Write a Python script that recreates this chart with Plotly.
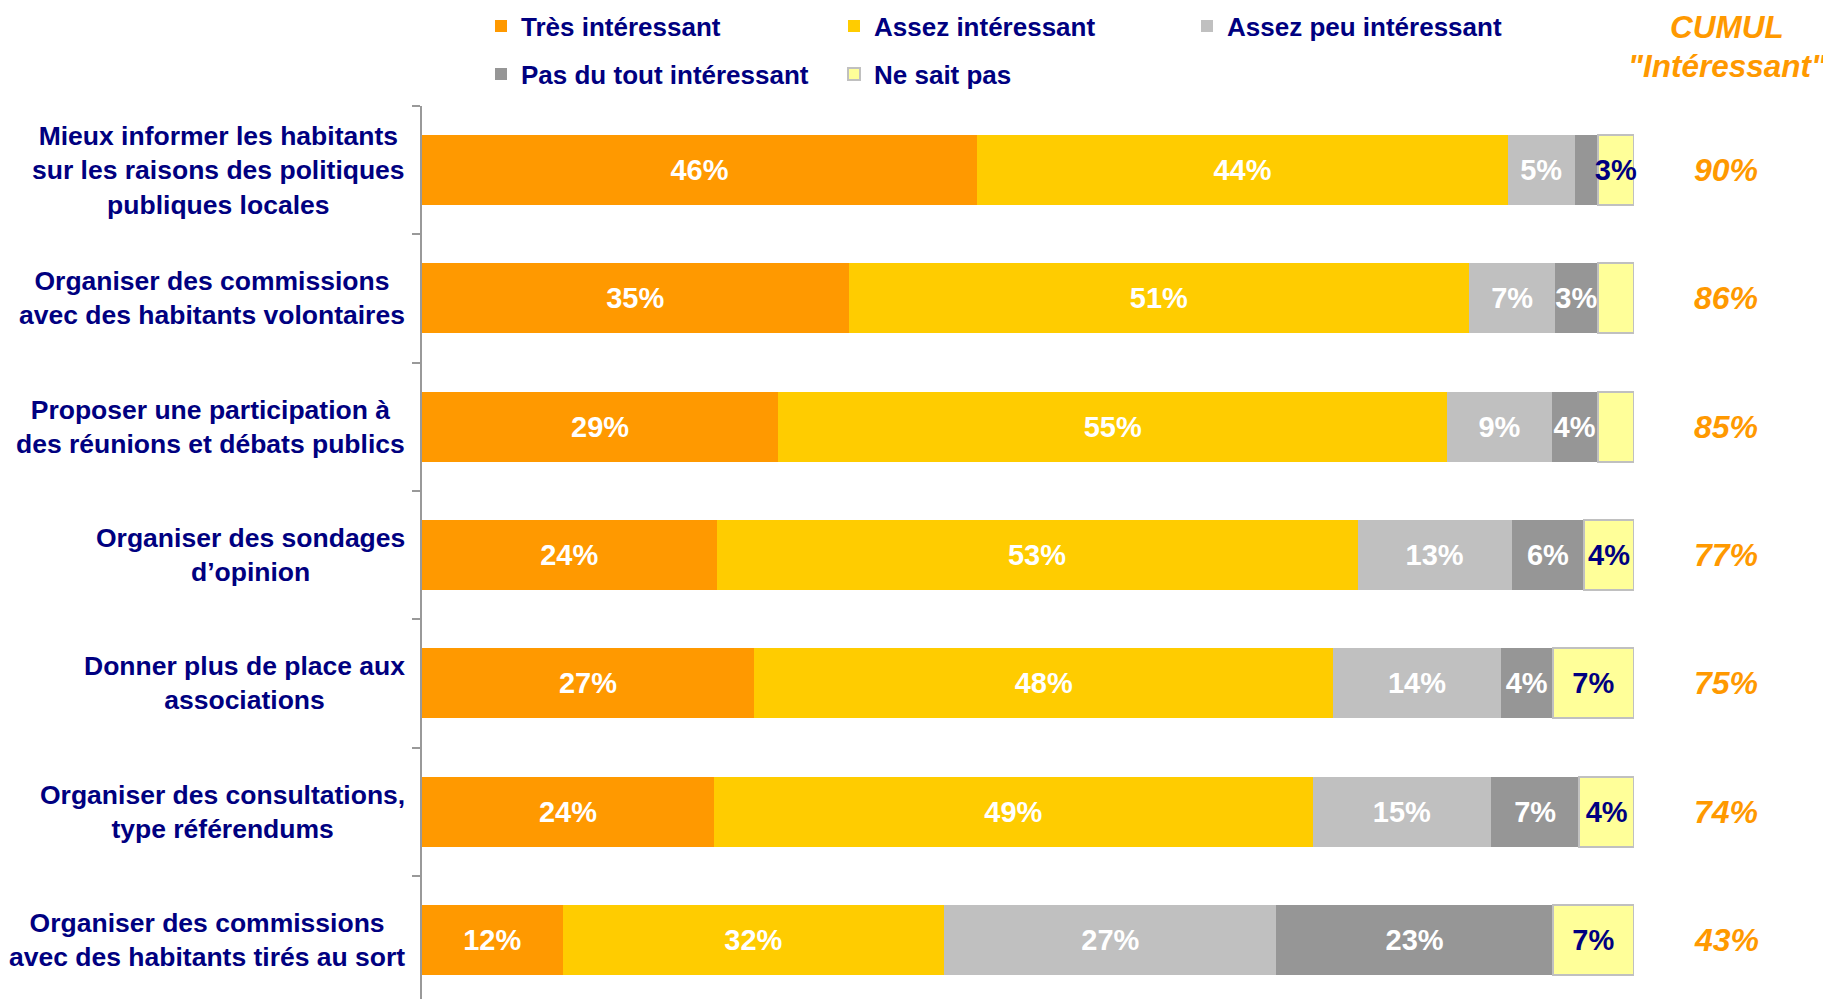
import plotly.graph_objects as go

categories = [
    "Mieux informer les habitants<br>sur les raisons des politiques<br>publiques locales",
    "Organiser des commissions<br>avec des habitants volontaires",
    "Proposer une participation à<br>des réunions et débats publics",
    "Organiser des sondages<br>d’opinion",
    "Donner plus de place aux<br>associations",
    "Organiser des consultations,<br>type référendums",
    "Organiser des commissions<br>avec des habitants tirés au sort",
]

series_names = ["Très intéressant", "Assez intéressant", "Assez peu intéressant",
                "Pas du tout intéressant", "Ne sait pas"]

tres = [45.8, 35.2, 29.4, 24.3, 27.4, 24.1, 11.6]
assez = [43.8, 51.2, 55.2, 52.9, 47.8, 49.4, 31.5]
assez_peu = [5.5, 7.1, 8.6, 12.7, 13.8, 14.7, 27.4]
pas_du_tout = [1.9, 3.5, 3.8, 6.0, 4.3, 7.3, 22.8]
ne_sait_pas = [3.0, 3.0, 3.0, 4.1, 6.7, 4.5, 6.7]

tres_labels = ["46%", "35%", "29%", "24%", "27%", "24%", "12%"]
assez_labels = ["44%", "51%", "55%", "53%", "48%", "49%", "32%"]
assez_peu_labels = ["5%", "7%", "9%", "13%", "14%", "15%", "27%"]
pas_du_tout_labels = ["", "3%", "4%", "6%", "4%", "7%", "23%"]
ne_sait_pas_labels = ["3%", "", "", "4%", "7%", "4%", "7%"]

cumul = ["90%", "86%", "85%", "77%", "75%", "74%", "43%"]
cumul_header = ["CUMUL", '"Intéressant"']

colors = ["#FF9900", "#FFCC00", "#C0C0C0", "#969696", "#FFFF99"]
text_colors = ["white", "white", "white", "white", "#000080"]
legend_ids = ["legend", "legend", "legend", "legend2", "legend2"]

values = [tres, assez, assez_peu, pas_du_tout, ne_sait_pas]
labels = [tres_labels, assez_labels, assez_peu_labels, pas_du_tout_labels, ne_sait_pas_labels]

FONT = "Liberation Sans, Arial, sans-serif"
NAVY = "#000080"
ORANGE = "#FF9900"

OFF = 8  # page body margin
W, H = 1831, 999
ML = 422 - OFF
MT = 106 - OFF
MR = W - (1634 - OFF)
MB = 0
PH = H - MT - MB
PW = W - ML - MR
CAT_PX = 128.3


def px_x(p):
    return (p - OFF - ML) / PW


def px_y(p):
    return (H - MB - (p - OFF)) / PH


fig = go.Figure()
for name, vals, labs, col, tcol, lg in zip(series_names, values, labels, colors, text_colors, legend_ids):
    fig.add_trace(go.Bar(
        y=categories, x=vals, name=name, orientation="h",
        marker=dict(color=col,
                    line=dict(color="#C0C0C0", width=2 if name == "Ne sait pas" else 0)),
        text=labs, textposition="inside", insidetextanchor="middle",
        constraintext="none", textangle=0,
        textfont=dict(family=FONT, size=29, color=tcol, weight="bold"),
        legend=lg, cliponaxis=False,
    ))

# category labels (centered multi-line)
for i, c in enumerate(categories):
    fig.add_annotation(
        xref="paper", yref="y", x=px_x(407), y=i,
        xanchor="right", yanchor="middle", align="center",
        text=c, showarrow=False,
        font=dict(family=FONT, size=26.5, color=NAVY, weight="bold"),
    )

# cumul values
for i, v in enumerate(cumul):
    fig.add_annotation(
        xref="paper", yref="y", x=px_x(1726), y=i,
        xanchor="center", yanchor="middle", text=v, showarrow=False,
        font=dict(family=FONT, size=32, color=ORANGE, weight="bold", style="italic"),
    )

for txt, py in zip(cumul_header, [27, 66]):
    fig.add_annotation(
        xref="paper", yref="paper", x=px_x(1727), y=px_y(py),
        xanchor="center", yanchor="middle", align="center",
        text=txt, showarrow=False, borderpad=0,
        font=dict(family=FONT, size=31.5, color=ORANGE, weight="bold", style="italic"),
    )

legend_common = dict(
    orientation="h", xanchor="left", yanchor="middle",
    font=dict(family=FONT, size=26, color=NAVY, weight="bold"),
    entrywidth=308, entrywidthmode="pixels",
    bgcolor="rgba(0,0,0,0)", traceorder="normal",
)

fig.update_layout(
    width=W, height=H,
    margin=dict(l=ML, r=MR, t=MT, b=MB, autoexpand=False),
    barmode="stack", bargap=0.455,
    plot_bgcolor="white", paper_bgcolor="white",
    showlegend=True,
    legend=dict(x=px_x(481), y=px_y(26), **legend_common),
    legend2=dict(x=px_x(481), y=px_y(74), **legend_common),
    xaxis=dict(range=[0, 100], visible=False, fixedrange=True),
    yaxis=dict(
        range=[-0.5 + PH / CAT_PX, -0.5],
        showticklabels=False, showgrid=False,
        showline=True, linecolor="#999999", linewidth=2,
        ticks="outside", ticklen=8, tickcolor="#999999", tickwidth=2,
        tickson="boundaries", fixedrange=True,
    ),
)

fig.write_html("out.html")
